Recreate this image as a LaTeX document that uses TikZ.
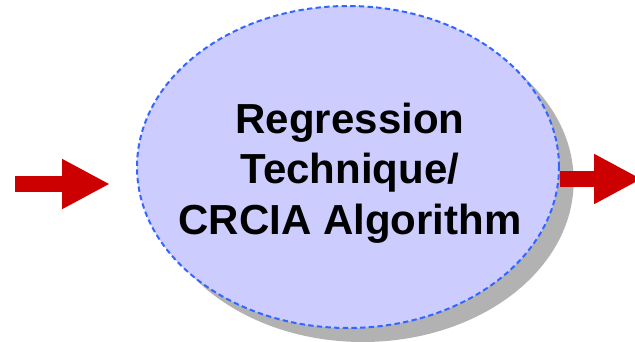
\documentclass[tikz,border=0pt]{standalone}
\usepackage{fontspec}
\setmainfont{Liberation Sans}
\usetikzlibrary{positioning,arrows.meta,shapes.geometric,shadows}
\definecolor{bubble}{HTML}{CCCCFF}
\definecolor{rim}{HTML}{3366FF}
\definecolor{flowred}{HTML}{CC0000}

\begin{document}
\begin{tikzpicture}[
  x=0.75pt, y=-0.75pt,
  algo/.style={ellipse, fill=bubble, draw=rim, line width=1.5pt,
    dash pattern=on 4pt off 2.5pt, inner sep=0pt,
    minimum width=316.5pt, minimum height=241.5pt,
    drop shadow={shadow xshift=11pt, shadow yshift=-10.5pt,
      fill=gray!60, opacity=1}},
  caption/.style={font=\bfseries\fontsize{31.5}{38}\selectfont,
    align=center, inner sep=0pt},
  flow/.style={draw=flowred, line width=12pt,
    -{Triangle[length=36pt, width=35pt, fill=flowred]}}
]
  \useasboundingbox (0,0) rectangle (635,342);

  % the method bubble
  \node[algo] (algo) at (348,167) {};
  \node[caption] (algotext) at (350,173)
    {Regression\\Technique/\\CRCIA Algorithm};

  % input and output
  \coordinate (src)  at (15,184);
  \coordinate (sink) at (642,179);
  \draw[flow, shorten >=19.5pt] (src) -- (src -| algo.west);
  \draw[flow] (algo.east |- sink) -- (sink);
\end{tikzpicture}
\end{document}
